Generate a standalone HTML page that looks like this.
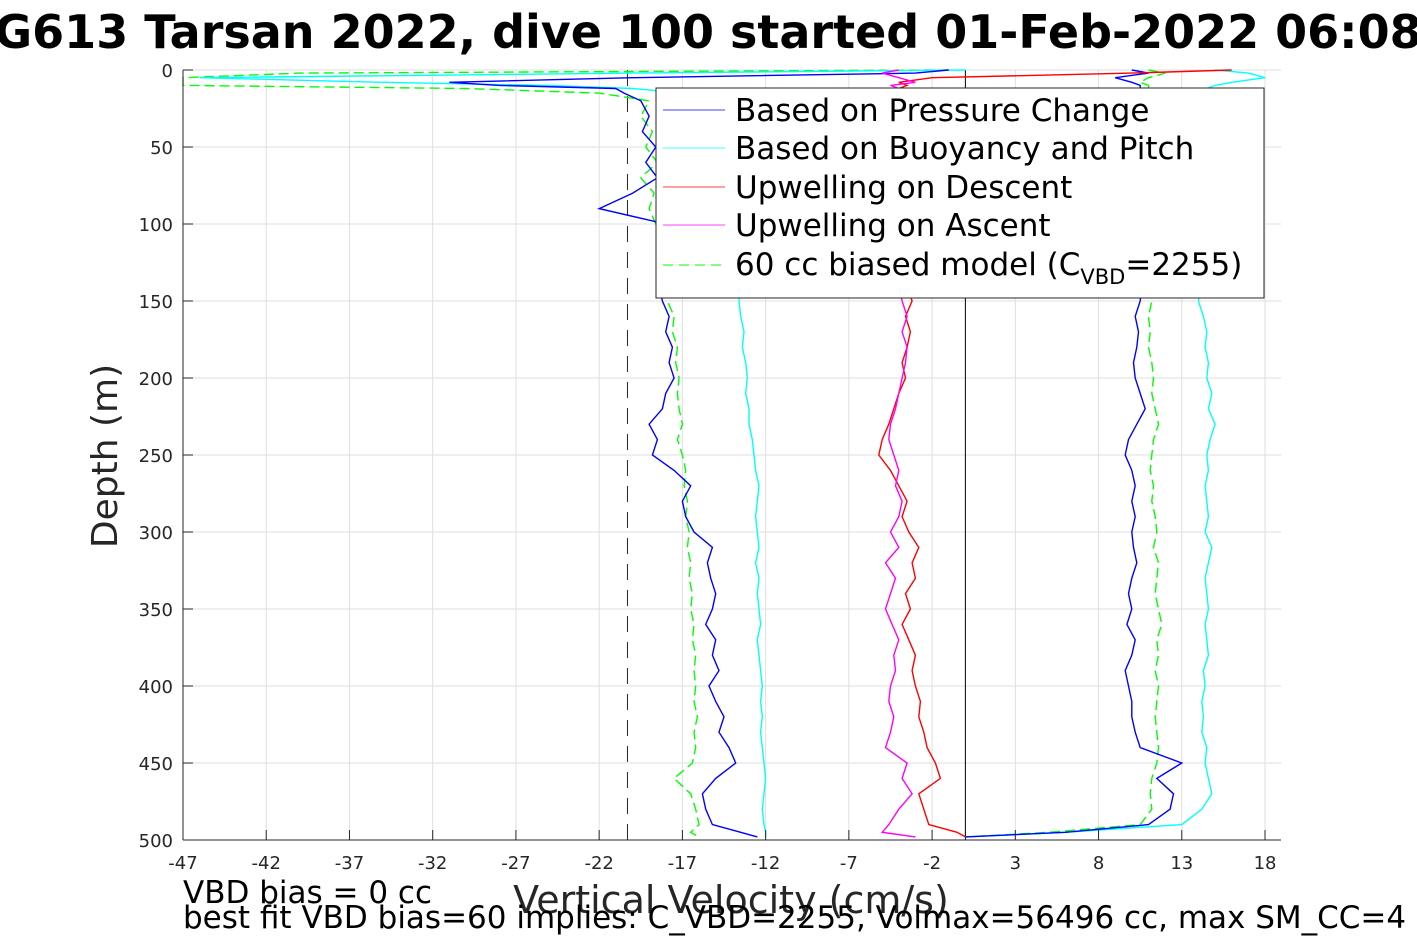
<!DOCTYPE html>
<html><head><meta charset="utf-8"><style>
body{margin:0;background:#fff;}
svg{display:block;font-family:"DejaVu Sans","Liberation Sans",sans-serif;}
</style></head><body>
<svg id="chart" width="1417" height="945" viewBox="0 0 1417 945" xmlns="http://www.w3.org/2000/svg">
<rect width="1417" height="945" fill="#fff"/>
<text x="708" y="48" font-size="46" font-weight="bold" text-anchor="middle">G613 Tarsan 2022, dive 100 started 01-Feb-2022 06:08</text>
<g id="grid"></g>
<g id="marks"></g>
<g id="axes"></g>
<text transform="translate(117,456) rotate(-90)" font-size="36" text-anchor="middle" fill="#262626">Depth (m)</text>
<text x="731" y="913" font-size="38" text-anchor="middle" fill="#262626">Vertical Velocity (cm/s)</text>
<text x="183" y="903" font-size="31">VBD bias = 0 cc</text>
<text x="183" y="928" font-size="31">best fit VBD bias=60 implies: C_VBD=2255, Volmax=56496 cc, max SM_CC=4</text>
<g>
<rect x="656" y="88" width="608" height="210" fill="#fff" stroke="#262626" stroke-width="1"/>
<line x1="663" y1="110" x2="725" y2="110" stroke="#0000ff" stroke-width="0.8"/><text x="735" y="121" font-size="31">Based on Pressure Change</text>
<line x1="663" y1="148" x2="725" y2="148" stroke="#00ffff" stroke-width="0.8"/><text x="735" y="159" font-size="31">Based on Buoyancy and Pitch</text>
<line x1="663" y1="187" x2="725" y2="187" stroke="#ff0000" stroke-width="0.8"/><text x="735" y="198" font-size="31">Upwelling on Descent</text>
<line x1="663" y1="225" x2="725" y2="225" stroke="#ff00ff" stroke-width="0.8"/><text x="735" y="236" font-size="31">Upwelling on Ascent</text>
<line x1="663" y1="265" x2="725" y2="265" stroke="#00ff00" stroke-dasharray="10,6"/><text x="735" y="275" font-size="31">60 cc biased model (C<tspan font-size="21" dy="9">VBD</tspan><tspan dy="-9">=2255)</tspan></text>
</g>
</svg>
<script>
const xTicks=[-47,-42,-37,-32,-27,-22,-17,-12,-7,-2,3,8,13,18];
const yTicks=[0,50,100,150,200,250,300,350,400,450,500];
const depths=[0,2,5,8,10,12,15,20,30,40,50,60,70,80,90,100,110,120,130,140,150,160,170,180,190,200,210,220,230,240,250,260,270,280,290,300,310,320,330,340,350,360,370,380,390,400,410,420,430,440,450,460,470,480,490,495,498];
const pressDesc=[-1,-3,-20,-31,-28,-21,-20.5,
-19.5,-19,-19.4,-18.6,-19.2,-18.5,-20,-22,-18,-18.3,
-18.5,-18.2,-18.4,-18.2,-17.8,-18,-17.6,-17.8,-17.5,-18,
-18.2,-19,-18.5,-18.8,-17.5,-16.5,-17,-16.8,-16.3,-15.2,
-15.5,-15.3,-15,-15.2,-15.6,-15,-15.2,-14.8,-15.4,-15,
-14.5,-14.8,-14.2,-13.8,-15,-15.8,-15.6,-15.2,
-13.5,-12.5];
const buoyDesc=[0,-20,-46,-35,-25,-20,-17,
-15,-14,-13.6,-13.5,-13.4,-13.5,-13.3,-13.5,-13.4,-13.5,
-13.5,-13.4,-13.5,-13.6,-13.5,-13.3,-13.4,-13.2,-13.1,-13.2,
-13,-13,-12.8,-12.7,-12.6,-12.4,-12.5,-12.6,-12.5,-12.4,
-12.6,-12.4,-12.5,-12.4,-12.3,-12.5,-12.4,-12.3,-12.2,-12.3,
-12.2,-12.3,-12.2,-12.1,-12,-12.1,-12.2,-12.1,
-12,-12];
const modelDesc=[-1,-40,-47,-47,-47,-30,-22,
-19,-19.5,-18.8,-19.2,-18.5,-19.5,-18.7,-19,-18.6,-18.4,
-18.2,-18,-17.8,-17.9,-17.5,-17.6,-17.3,-17.4,-17.2,-17.3,
-17.2,-17,-17.3,-17,-16.8,-16.9,-16.7,-16.8,-16.6,-16.7,
-16.5,-16.6,-16.4,-16.5,-16.3,-16.4,-16.2,-16.3,-16.2,-16.3,
-16.1,-16.3,-16.2,-16.4,-17.5,-16.5,-16.2,-16,
-16.5,-16];
const upDesc=[16,10,-2,-4,-3.5,-4,-4,
-4,-4,-4,-4,-4,-4,-4,-4,-4,-4,
-3.5,-3.3,-3.5,-3.2,-3.6,-3.3,-3.5,-3.8,-3.6,-4,
-4.3,-4.6,-5,-5.2,-4.5,-4,-3.5,-3.8,-3.4,-2.8,
-3.2,-3,-3.6,-3.3,-3.8,-3.4,-3,-3.2,-3,-2.7,
-2.8,-2.5,-2.3,-1.8,-1.5,-2.8,-2.5,-2.2,
-0.5,0];
const upAsc=[-4,-5,-4,-3,-4.5,-4,-4,
-4,-4,-4,-4,-4,-4,-4,-4,-4,-4,
-4,-4,-4,-3.8,-3.5,-3.8,-3.5,-3.6,-3.8,-4,
-4.2,-4.5,-4.6,-4.3,-4,-4.2,-3.8,-4,-4.5,-4,
-4.8,-4.2,-4.5,-4.8,-4.4,-4,-4.3,-4.2,-4.5,-4.6,
-4.3,-4.5,-4.8,-3.5,-3.8,-3.2,-4,-4.6,
-5,-3];
const pressAsc=[10,11,9,10,10.5,10.5,10.5,
10.5,10.5,10.5,10.5,10.5,10.5,10.5,10.5,10.5,10.5,
10.5,10.4,10.6,10.5,10.2,10.4,10.3,10.1,10.2,10.5,
10.8,10.3,9.8,9.6,10,10.2,10,10.2,10,10.1,
10.3,10,9.8,10,9.7,10.2,10,9.6,9.8,10,
10,10.2,10.5,13,11.5,12.5,12.3,11,
6,0];
const buoyAsc=[15,17,18,16,15,14.5,14.5,
14.5,14.5,14.5,14.5,14.5,14.5,14.5,14.5,14.5,14.5,
14.3,14.2,14.2,14,14.3,14.5,14.4,14.6,14.5,14.8,
14.6,15,14.7,14.5,14.6,14.4,14.5,14.6,14.4,14.8,
14.6,14.4,14.5,14.6,14.4,14.5,14.6,14.3,14.4,14.2,
14.3,14.2,14.5,14.4,14.6,14.8,14.2,13,
6,0];
const modelAsc=[11,12,11,10.5,11,11,11,
11,11,11,11,11,11,11,11,11,11,
11,11,11,11.2,11,11.1,11,11.2,11.3,11.2,
11.4,11.6,11.3,11.2,11.1,11.3,11.2,11.4,11.5,11.3,
11.6,11.5,11.4,11.6,11.8,11.5,11.6,11.4,11.6,11.5,
11.4,11.5,11.6,11.5,11.2,11.1,11.2,10.5,
5,0];
const refLines=[-20.3,0];

const X0=183,X1=1281,Y0=70,Y1=840,XMIN=-47,XMAX=18.96,YMAX=500;
const xs=v=>X0+(v-XMIN)/(XMAX-XMIN)*(X1-X0);
const ys=d=>Y0+d/YMAX*(Y1-Y0);
const NS="http://www.w3.org/2000/svg";
function mk(tag,attrs,parent){const e=document.createElementNS(NS,tag);for(const k in attrs)e.setAttribute(k,attrs[k]);parent.appendChild(e);return e;}
const grid=document.getElementById('grid'),marks=document.getElementById('marks'),axes=document.getElementById('axes');
xTicks.forEach(t=>{const l=mk('line',{x1:xs(t),x2:xs(t),y1:Y0,y2:Y1,stroke:'#dfdfdf'},grid);


const tk=mk('line',{x1:xs(t),x2:xs(t),y1:Y1,y2:Y1-10,stroke:'#262626'},axes);


const tx=mk('text',{x:xs(t),y:Y1+29,'font-size':18,'text-anchor':'middle',fill:'#262626'},axes);tx.textContent=t;

});
yTicks.forEach(t=>{const l=mk('line',{x1:X0,x2:X1,y1:ys(t),y2:ys(t),stroke:'#dfdfdf'},grid);


const tk=mk('line',{x1:X0,x2:X0+10,y1:ys(t),y2:ys(t),stroke:'#262626'},axes);


const tx=mk('text',{x:X0-10,y:ys(t)+7,'font-size':18,'text-anchor':'end',fill:'#262626'},axes);tx.textContent=t;

});
const la=mk('line',{x1:X0,x2:X0,y1:Y0,y2:Y1,stroke:'#262626'},axes);


const lb=mk('line',{x1:X0,x2:X1,y1:Y1,y2:Y1,stroke:'#262626'},axes);


const r1=mk('line',{x1:xs(refLines[0]),x2:xs(refLines[0]),y1:Y0,y2:Y1,stroke:'#262626','stroke-dasharray':'16,10'},marks);


const r2=mk('line',{x1:xs(refLines[1]),x2:xs(refLines[1]),y1:Y0,y2:Y1,stroke:'#000'},marks);


function series(vals,color,name,dash){const pts=vals.map((v,i)=>xs(v).toFixed(1)+','+ys(depths[i]).toFixed(1)).join(' ');
const p=mk('polyline',{points:pts,fill:'none',stroke:color,'stroke-width':1.4},marks);
if(dash)p.setAttribute('stroke-dasharray',dash);

}
series(modelDesc,'#00ff00','model-descent-line','10,5');
series(modelAsc,'#00ff00','model-ascent-line','10,5');
series(buoyDesc,'#00ffff','buoyancy-descent-line');
series(buoyAsc,'#00ffff','buoyancy-ascent-line');
series(pressDesc,'#0000ff','pressure-descent-line');
series(pressAsc,'#0000ff','pressure-ascent-line');
series(upDesc,'#ff0000','upwelling-descent-line');
series(upAsc,'#ff00ff','upwelling-ascent-line');
</script>
</body></html>
